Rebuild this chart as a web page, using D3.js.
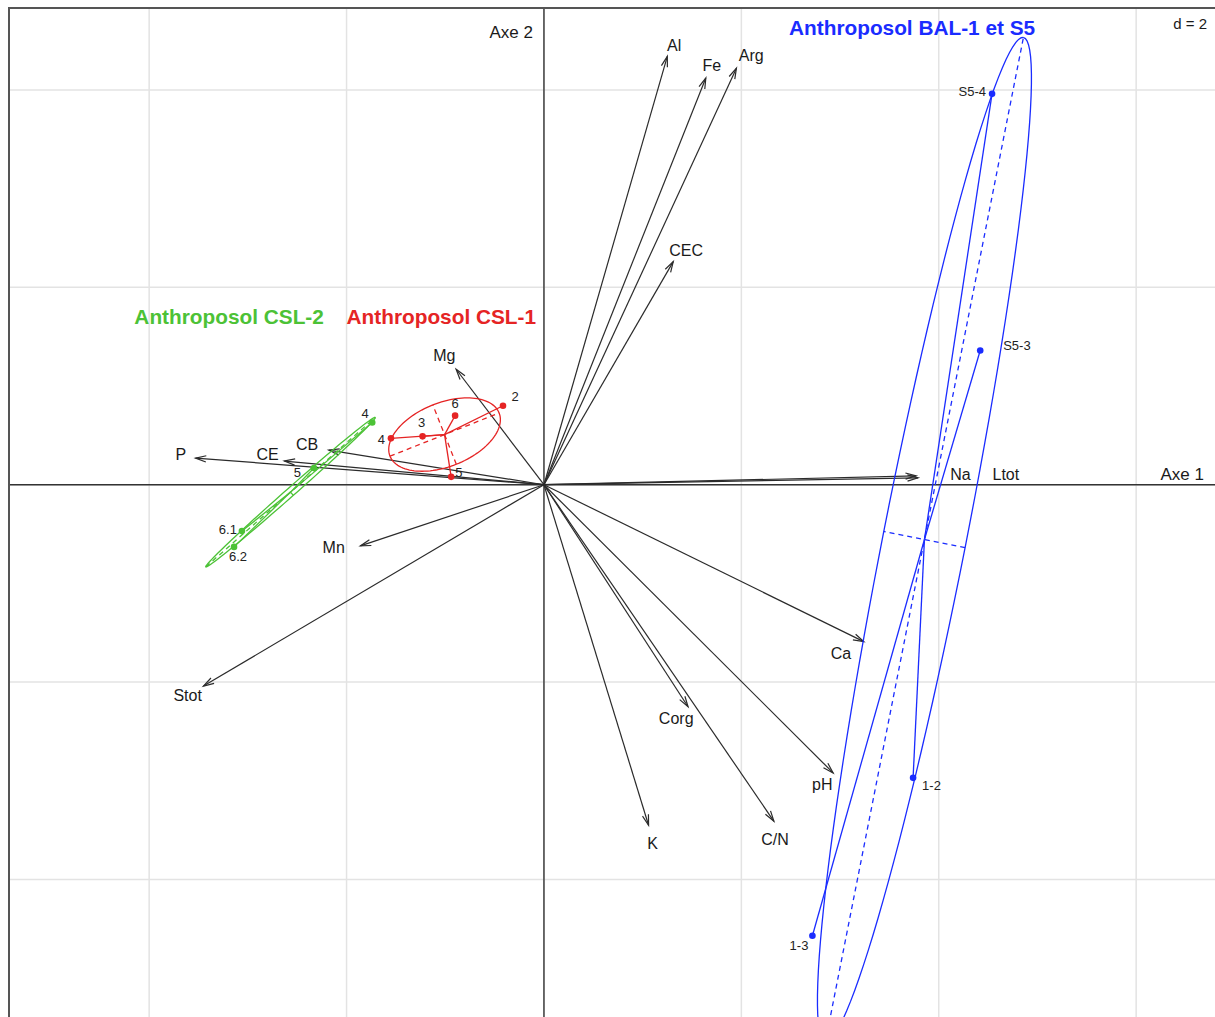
<!DOCTYPE html>
<html>
<head>
<meta charset="utf-8">
<script src="https://cdn.jsdelivr.net/npm/d3@7"></script>
<style>
  body { margin: 0; background: #fff; }
  svg { display: block; font-family: "Liberation Sans", Arial, Helvetica, sans-serif; }
</style>
</head>
<body>
<svg id="chart" width="1215" height="1017"></svg>
<script>
// Variable arrows (coordinates on axes 1 & 2)
const varNames  = ['Al', 'Fe', 'Arg', 'CEC', 'Mg', 'P', 'CE', 'CB', 'Mn', 'Stot', 'Na', 'Ltot', 'Ca', 'Corg', 'pH', 'K', 'C/N'];
const varX      = [1.25, 1.64, 1.95, 1.31, -0.89, -3.53, -2.63, -2.18, -1.86, -3.45, 3.77, 3.79, 3.24, 1.46, 2.93, 1.06, 2.33];
const varY      = [4.34, 4.12, 4.22, 2.26, 1.17, 0.27, 0.24, 0.35, -0.62, -2.04, 0.09, 0.07, -1.59, -2.25, -2.92, -3.45, -3.41];
const varLabelX = [1.32, 1.70, 2.10, 1.44, -1.01, -3.68, -2.80, -2.40, -2.13, -3.61, 4.22, 4.68, 3.01, 1.34, 2.82, 1.10, 2.34];
const varLabelY = [4.45, 4.25, 4.35, 2.37, 1.31, 0.31, 0.31, 0.41, -0.64, -2.14, 0.10, 0.10, -1.71, -2.37, -3.04, -3.64, -3.59];

// Samples, by class
const redNames   = ['2', '6', '3', '4', '5'];
const redX       = [-0.415, -0.90, -1.23, -1.55, -0.94];
const redY       = [0.80, 0.70, 0.49, 0.47, 0.08];
const greenNames = ['4', '5', '6.1', '6.2'];
const greenX     = [-1.74, -2.33, -3.06, -3.14];
const greenY     = [0.63, 0.17, -0.47, -0.63];
const blueNames  = ['S5-4', 'S5-3', '1-2', '1-3'];
const blueX      = [4.54, 4.42, 3.74, 2.72];
const blueY      = [3.96, 1.36, -2.97, -4.57];

const classNames  = ['Anthroposol CSL-1', 'Anthroposol CSL-2', 'Anthroposol BAL-1 et S5'];
const classLabelX = [-1.04, -3.19, 3.73];
const classLabelY = [1.70, 1.70, 4.63];

const gridStep = 2;

// label placement of the sample names (pixels: dx, dy, anchor)
const redLabelPos   = [[12, -9, 'middle'], [0, -12, 'middle'], [-1, -14, 'middle'], [-6, 1, 'end'], [4, -4, 'start']];
const greenLabelPos = [[-7, -9, 'middle'], [-13, 5, 'end'], [-5, -2, 'end'], [4, 10, 'middle']];
const blueLabelPos  = [[-6, -2, 'end'], [23, -5, 'start'], [9, 8, 'start'], [-4, 10, 'end']];

const classes = [
  { name: classNames[0], ids: redNames, xs: redX, ys: redY, col: '#e52424', lab: redLabelPos },
  { name: classNames[1], ids: greenNames, xs: greenX, ys: greenY, col: '#4cc236', lab: greenLabelPos },
  { name: classNames[2], ids: blueNames, xs: blueX, ys: blueY, col: '#1a2cff', lab: blueLabelPos },
];

const W = 1215, H = 1017;
const svg = d3.select('#chart');
const unit = 98.7;
const x = d3.scaleLinear().domain([-5.42, 6.9]).range([9, 9 + 12.32 * unit]);
const y = d3.scaleLinear().domain([4.83, -5.45]).range([8, 8 + 10.28 * unit]);

svg.append('defs').append('clipPath').attr('id', 'panel')
  .append('rect').attr('x', 9).attr('y', 8).attr('width', W).attr('height', H);

const g = svg.append('g').attr('clip-path', 'url(#panel)');

// Grid
const xTicks = d3.range(-4, 6.9, gridStep);
const yTicks = d3.range(-4, 4.83, gridStep);
g.selectAll('.gx').data(xTicks).join('line')
  .attr('x1', d => x(d)).attr('x2', d => x(d))
  .attr('y1', y.range()[0]).attr('y2', y.range()[1])
  .attr('stroke', '#e3e3e3').attr('stroke-width', 1.5);
g.selectAll('.gy').data(yTicks).join('line')
  .attr('y1', d => y(d)).attr('y2', d => y(d))
  .attr('x1', x.range()[0]).attr('x2', x.range()[1])
  .attr('stroke', '#e3e3e3').attr('stroke-width', 1.5);

// Axes through origin
g.append('line').attr('x1', x.range()[0]).attr('x2', x.range()[1])
  .attr('y1', y(0)).attr('y2', y(0)).attr('stroke', '#333').attr('stroke-width', 1.4);
g.append('line').attr('y1', y.range()[0]).attr('y2', y.range()[1])
  .attr('x1', x(0)).attr('x2', x(0)).attr('stroke', '#333').attr('stroke-width', 1.4);

// Arrows
const arrows = varNames.map((n, i) => ({ n, vx: varX[i], vy: varY[i], lx: varLabelX[i], ly: varLabelY[i] }));
const headLen = 11, headAng = Math.PI / 11;
const ag = g.append('g').attr('stroke', '#2b2b2b').attr('stroke-width', 1.2).attr('fill', 'none');
arrows.forEach(a => {
  const x1 = x(a.vx), y1 = y(a.vy);
  const th = Math.atan2(y1 - y(0), x1 - x(0));
  ag.append('line').attr('x1', x(0)).attr('y1', y(0)).attr('x2', x1).attr('y2', y1);
  ag.append('path').attr('d',
    `M${x1 - headLen * Math.cos(th - headAng)},${y1 - headLen * Math.sin(th - headAng)}` +
    `L${x1},${y1}L${x1 - headLen * Math.cos(th + headAng)},${y1 - headLen * Math.sin(th + headAng)}`);
});
g.selectAll('.vlab').data(arrows).join('text')
  .attr('x', d => x(d.lx)).attr('y', d => y(d.ly))
  .attr('text-anchor', 'middle').attr('dominant-baseline', 'central')
  .attr('font-size', 16).attr('fill', '#1a1a1a').text(d => d.n);

// Classes: star, ellipse (cellipse = 1.5), axes of ellipse
const cell = 1.5;
const line = d3.line().x(d => x(d[0])).y(d => y(d[1]));
classes.forEach(c => {
  const n = c.xs.length;
  const mx = d3.mean(c.xs), my = d3.mean(c.ys);
  const vx = d3.mean(c.xs, v => (v - mx) ** 2);
  const vy = d3.mean(c.ys, v => (v - my) ** 2);
  const cxy = d3.mean(c.xs.map((v, i) => (v - mx) * (c.ys[i] - my)));
  const delta = Math.sqrt((vx - vy) ** 2 + 4 * cxy * cxy);
  const l1 = (vx + vy + delta) / 2, l2 = Math.max(vx + vy - l1, 0);
  const ang = Math.atan2(l1 - vx, cxy);   // direction of major axis
  const a = cell * Math.sqrt(l1), b = cell * Math.sqrt(l2);
  const ux = Math.cos(ang), uy = Math.sin(ang);
  const el = d3.range(0, 361, 3).map(t => {
    const r = t * Math.PI / 180;
    return [mx + a * Math.cos(r) * ux - b * Math.sin(r) * uy,
            my + a * Math.cos(r) * uy + b * Math.sin(r) * ux];
  });
  const cg = g.append('g').attr('stroke', c.col).attr('fill', 'none').attr('stroke-width', 1.3);
  cg.append('path').attr('d', line(el));
  cg.append('path').attr('stroke-dasharray', '5,4')
    .attr('d', line([[mx - a * ux, my - a * uy], [mx + a * ux, my + a * uy]]));
  cg.append('path').attr('stroke-dasharray', '5,4')
    .attr('d', line([[mx + b * uy, my - b * ux], [mx - b * uy, my + b * ux]]));
  for (let i = 0; i < n; i++) {
    cg.append('path').attr('d', line([[mx, my], [c.xs[i], c.ys[i]]]));
  }
  const pts = c.ids.map((id, i) => ({ id, px: c.xs[i], py: c.ys[i], lab: c.lab[i] }));
  g.selectAll(null).data(pts).join('circle')
    .attr('cx', d => x(d.px)).attr('cy', d => y(d.py)).attr('r', 3.3).attr('fill', c.col);
  g.selectAll(null).data(pts).join('text')
    .attr('x', d => x(d.px) + d.lab[0]).attr('y', d => y(d.py) + d.lab[1])
    .attr('text-anchor', d => d.lab[2]).attr('dominant-baseline', 'central')
    .attr('font-size', 13).attr('fill', '#222').text(d => d.id);
});

// Class titles
g.selectAll('.clab').data(classes).join('text')
  .attr('x', (d, i) => x(classLabelX[i])).attr('y', (d, i) => y(classLabelY[i]))
  .attr('text-anchor', 'middle').attr('dominant-baseline', 'central')
  .attr('font-size', 20.8).attr('font-weight', 'bold').attr('fill', d => d.col).text(d => d.name);

// Axis names and scale
g.append('text').attr('x', x(0) - 11).attr('y', 32).attr('text-anchor', 'end')
  .attr('dominant-baseline', 'central').attr('font-size', 17).attr('fill', '#1a1a1a').text('Axe 2');
g.append('text').attr('x', 1204).attr('y', y(0) - 10).attr('text-anchor', 'end')
  .attr('dominant-baseline', 'central').attr('font-size', 17).attr('fill', '#1a1a1a').text('Axe 1');
g.append('text').attr('x', 1207).attr('y', 23).attr('text-anchor', 'end')
  .attr('dominant-baseline', 'central').attr('font-size', 15).attr('fill', '#1a1a1a').text('d = ' + gridStep);

// Frame (only left and top edges are visible)
svg.append('rect').attr('x', 9).attr('y', 8).attr('width', W + 20).attr('height', H + 20)
  .attr('fill', 'none').attr('stroke', '#555').attr('stroke-width', 2);
</script>
</body>
</html>
